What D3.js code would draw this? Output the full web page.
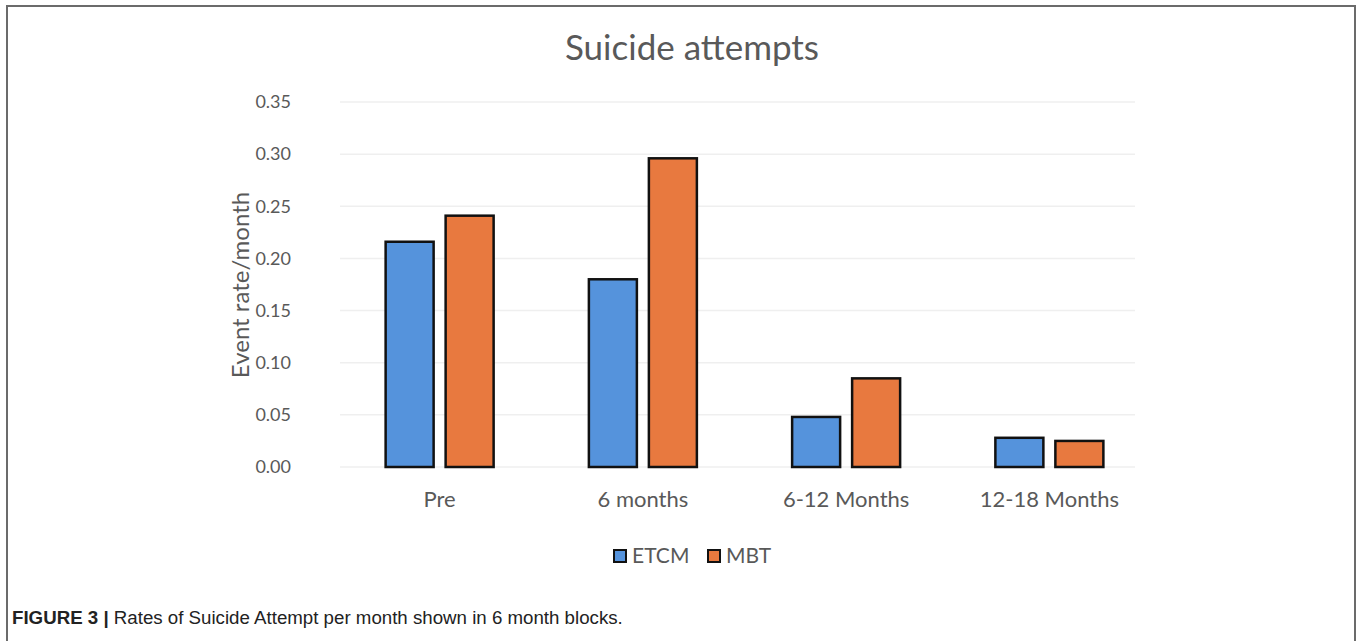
<!DOCTYPE html>
<html>
<head>
<meta charset="utf-8">
<script src="https://cdn.jsdelivr.net/npm/d3@7"></script>
<style>
  body { margin: 0; background: #fff; }
</style>
</head>
<body>
<div id="chart-area"></div>
<script>
// data
const categories = ["Pre", "6 months", "6-12 Months", "12-18 Months"]
const seriesNames = ["ETCM", "MBT"]
const etcm = [0.216, 0.180, 0.048, 0.028]
const mbt = [0.241, 0.296, 0.085, 0.025]
const yTicks = [0, 0.05, 0.10, 0.15, 0.20, 0.25, 0.30, 0.35]
const colors = ["#5593dc", "#e8793f"]

const W = 1357, H = 641
const margin = {left: 338, right: 202, top: 102, bottom: 174}
const width = W - margin.left - margin.right
const height = H - margin.top - margin.bottom

const svg = d3.select("#chart-area").append("svg")
    .attr("width", W)
    .attr("height", H)

// frame (open at bottom)
svg.append("path")
    .attr("d", `M7,${H} V6 H1355 V${H}`)
    .attr("fill", "none")
    .attr("stroke", "#6b6b6b")
    .attr("stroke-width", 2)

const g = svg.append("g")
    .attr("transform", `translate(${margin.left}, ${margin.top})`)

const x = d3.scaleBand()
    .domain(categories)
    .range([0, width - 4])

const x1 = d3.scaleBand()
    .domain(seriesNames)
    .range([0, 108])
    .paddingInner(0.2)

const y = d3.scaleLinear()
    .domain([0, 0.35])
    .range([height, 0])

// gridlines
g.append("g")
    .selectAll("line")
    .data(yTicks)
    .enter()
    .append("line")
    .attr("x1", 2)
    .attr("x2", width - 20)
    .attr("y1", d => y(d))
    .attr("y2", d => y(d))
    .attr("stroke", "#efefef")
    .attr("stroke-width", 1.5)

// y axis
const yAxisCall = d3.axisLeft(y)
    .tickValues(yTicks)
    .tickFormat(d3.format(".2f"))
    .tickSize(0)
    .tickPadding(47)

g.append("g")
    .attr("class", "y-axis")
    .call(yAxisCall)
    .call(a => a.select(".domain").remove())
    .selectAll("text")
    .attr("font-family", "Lato, 'Open Sans', sans-serif")
    .attr("font-size", "18px")
    .attr("fill", "#595959")

// x axis
const xAxisCall = d3.axisBottom(x)
    .tickSize(0)
    .tickPadding(24)

g.append("g")
    .attr("class", "x-axis")
    .attr("transform", `translate(0, ${height})`)
    .call(xAxisCall)
    .call(a => a.select(".domain").remove())
    .selectAll("text")
    .attr("font-family", "Lato, 'Open Sans', sans-serif")
    .attr("font-size", "22px")
    .attr("fill", "#595959")

// bars
const rows = categories.map((c, i) => ({cat: c, vals: [etcm[i], mbt[i]]}))

const groups = g.selectAll("g.cat")
    .data(rows)
    .enter()
    .append("g")
    .attr("class", "cat")
    .attr("transform", d => `translate(${x(d.cat) + x.bandwidth() / 2 - 54}, 0)`)

groups.selectAll("rect")
    .data(d => d.vals.map((v, j) => ({name: seriesNames[j], value: v, j: j})))
    .enter()
    .append("rect")
    .attr("x", d => x1(d.name))
    .attr("y", d => y(d.value))
    .attr("width", x1.bandwidth())
    .attr("height", d => height - y(d.value))
    .attr("fill", d => colors[d.j])
    .attr("stroke", "#111")
    .attr("stroke-width", 2.5)

// title
svg.append("text")
    .attr("x", 692)
    .attr("y", 60)
    .attr("text-anchor", "middle")
    .attr("font-family", "Lato, 'Open Sans', sans-serif")
    .attr("font-size", "35px")
    .attr("fill", "#595959")
    .text("Suicide attempts")

// Y label
svg.append("text")
    .attr("transform", "rotate(-90)")
    .attr("x", -285)
    .attr("y", 249)
    .attr("text-anchor", "middle")
    .attr("font-family", "Lato, 'Open Sans', sans-serif")
    .attr("font-size", "24px")
    .attr("fill", "#595959")
    .text("Event rate/month")

// legend
const legend = svg.append("g")
    .attr("transform", "translate(614, 550)")

const items = legend.selectAll("g")
    .data(seriesNames)
    .enter()
    .append("g")
    .attr("transform", (d, i) => `translate(${i * 94}, 0)`)

items.append("rect")
    .attr("width", 12)
    .attr("height", 12)
    .attr("fill", (d, i) => colors[i])
    .attr("stroke", "#111")
    .attr("stroke-width", 2)

items.append("text")
    .attr("x", 18)
    .attr("y", 13)
    .attr("font-family", "Lato, 'Open Sans', sans-serif")
    .attr("font-size", "21px")
    .attr("fill", "#595959")
    .text(d => d)

// caption
const cap = svg.append("text")
    .attr("x", 12)
    .attr("y", 624)
    .attr("font-family", "'Liberation Sans', Arial, sans-serif")
    .attr("font-size", "18.7px")
    .attr("fill", "#222")

cap.append("tspan")
    .attr("font-weight", "bold")
    .text("FIGURE 3 | ")

cap.append("tspan")
    .text("Rates of Suicide Attempt per month shown in 6 month blocks.")
</script>
</body>
</html>
